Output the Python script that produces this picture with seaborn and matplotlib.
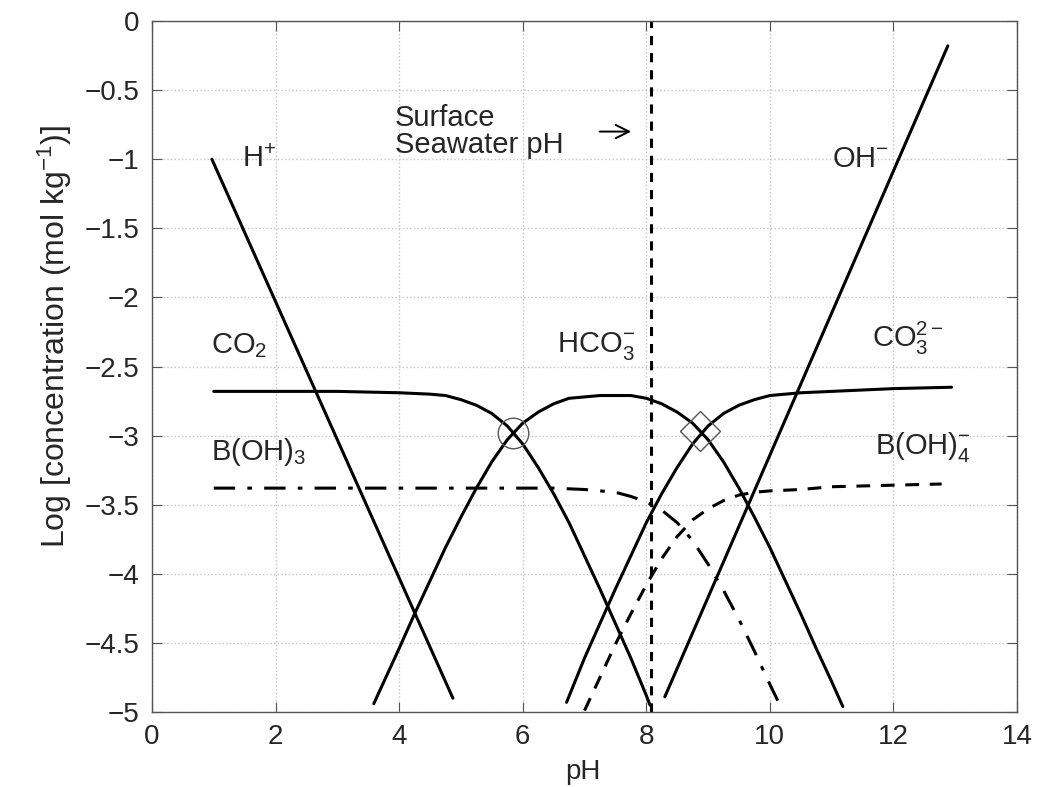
import numpy as np
import matplotlib
matplotlib.use("Agg")
import matplotlib.pyplot as plt
import seaborn as sns

# values (pH, log concentration)
h_ph = [0.97, 4.87]
h_log = [-1.0, -4.9]

oh_ph = [8.3, 12.88]
oh_log = [-4.89, -0.18]

co2_ph = [1.0, 2.0, 3.0, 4.0, 4.5, 4.75, 5.0, 5.25, 5.5, 5.75, 6.0, 6.25, 6.5, 6.75,
          7.0, 7.25, 7.5, 7.75, 8.0, 8.06]
co2_log = [-2.68, -2.68, -2.68, -2.69, -2.70, -2.71, -2.74, -2.78, -2.84, -2.93, -3.06,
           -3.23, -3.42, -3.63, -3.87, -4.11, -4.36, -4.61, -4.88, -4.95]

hco3_ph = [3.59, 4.0, 4.25, 4.5, 4.75, 5.0, 5.25, 5.5, 5.75, 6.0, 6.25, 6.5, 6.75, 7.0,
           7.25, 7.5, 7.75, 8.0, 8.25, 8.5, 8.75, 9.0, 9.25, 9.5, 9.75, 10.0, 10.25,
           10.5, 10.75, 11.0, 11.18]
hco3_log = [-4.94, -4.54, -4.29, -4.05, -3.81, -3.59, -3.38, -3.19, -3.03, -2.91, -2.83,
            -2.77, -2.73, -2.72, -2.71, -2.71, -2.71, -2.73, -2.77, -2.83, -2.91, -3.03,
            -3.19, -3.38, -3.59, -3.81, -4.05, -4.29, -4.54, -4.78, -4.96]

co3_ph = [6.71, 7.0, 7.25, 7.5, 7.75, 8.0, 8.25, 8.5, 8.75, 9.0, 9.25, 9.5, 9.75, 10.0,
          10.25, 10.5, 11.0, 12.0, 12.94]
co3_log = [-4.93, -4.61, -4.36, -4.11, -3.87, -3.63, -3.42, -3.23, -3.06, -2.93, -2.84,
           -2.78, -2.74, -2.71, -2.70, -2.69, -2.68, -2.66, -2.65]

boh3_ph = [1.0, 6.0, 6.5, 7.0, 7.25, 7.5, 7.75, 8.0, 8.25, 8.5, 8.75, 9.0, 9.25, 9.5,
           9.75, 10.0, 10.13]
boh3_log = [-3.38, -3.38, -3.38, -3.39, -3.40, -3.41, -3.44, -3.48, -3.54, -3.63, -3.76,
            -3.93, -4.12, -4.33, -4.56, -4.80, -4.92]

boh4_ph = [7.0, 7.25, 7.5, 7.75, 8.0, 8.25, 8.5, 8.75, 9.0, 9.25, 9.5, 9.75, 10.0, 10.5,
           11.0, 12.78]
boh4_log = [-4.99, -4.75, -4.51, -4.29, -4.08, -3.89, -3.73, -3.61, -3.53, -3.47, -3.43,
            -3.41, -3.40, -3.39, -3.37, -3.35]

seawater_ph = 8.07
circle_pt = (5.85, -2.98)
diamond_pt = (8.87, -2.97)

sns.set_style("ticks")
plt.rcParams['font.family'] = ['Liberation Sans', 'DejaVu Sans']
plt.rcParams['mathtext.fontset'] = 'custom'
plt.rcParams['mathtext.rm'] = 'Liberation Sans'
plt.rcParams['mathtext.it'] = 'Liberation Sans:italic'

fig = plt.figure(figsize=(10.38, 7.87), dpi=100)
ax = fig.add_axes([0.1464, 0.0953, 0.8334, 0.878])

lw = 2.2
sns.lineplot(x=h_ph, y=h_log, ax=ax, color='k', lw=lw)
sns.lineplot(x=oh_ph, y=oh_log, ax=ax, color='k', lw=lw)
sns.lineplot(x=co2_ph, y=co2_log, ax=ax, color='k', lw=lw, sort=False)
sns.lineplot(x=hco3_ph, y=hco3_log, ax=ax, color='k', lw=lw, sort=False)
sns.lineplot(x=co3_ph, y=co3_log, ax=ax, color='k', lw=lw, sort=False)
sns.lineplot(x=boh3_ph, y=boh3_log, ax=ax, color='k', lw=lw, sort=False,
             linestyle=(0, (7, 4, 1.5, 4)))
sns.lineplot(x=boh4_ph, y=boh4_log, ax=ax, color='k', lw=lw, sort=False,
             linestyle=(0, (4.5, 3.5)))
ax.plot([seawater_ph, seawater_ph], [-5, 0], color='k', lw=lw, linestyle=(0, (3, 2.6)))

ax.plot(*circle_pt, marker='o', ms=22, mfc='none', mec='#555555', mew=1.0)
ax.plot(*diamond_pt, marker='D', ms=20, mfc='none', mec='#555555', mew=1.0)

fs = 21
ax.text(1.46, -1.0, r'H$^{+}$', fontsize=fs, va='center')
ax.text(11.0, -1.0, r'OH$^{-}$', fontsize=fs, va='center')
ax.text(0.95, -2.35, r'CO$_2$', fontsize=fs, va='center')
ax.text(6.55, -2.35, r'HCO$_3^{-}$', fontsize=fs, va='center')
ax.text(11.65, -2.3, r'CO$_3^{2-}$', fontsize=fs, va='center')
ax.text(0.95, -3.12, r'B(OH)$_3$', fontsize=fs, va='center')
ax.text(11.7, -3.08, r'B(OH)$_4^{-}$', fontsize=fs, va='center')
ax.text(3.93, -0.8, 'Surface\nSeawater pH', fontsize=fs, va='center', linespacing=0.92)
ax.annotate('', xy=(7.8, -0.8), xytext=(7.2, -0.8),
            arrowprops=dict(arrowstyle='->', lw=1.4, color='k', mutation_scale=24))

ax.set_xlim(0, 14)
ax.set_ylim(-5, 0)
ax.set_xticks(np.arange(0, 15, 2))
ax.set_yticks(np.arange(-5, 0.01, 0.5))
ax.set_yticklabels(['\u22125', '\u22124.5', '\u22124', '\u22123.5', '\u22123', '\u22122.5',
                    '\u22122', '\u22121.5', '\u22121', '\u22120.5', '0'])
ax.grid(True, linestyle=':', color='#c4c4c4', lw=1.0)
ax.tick_params(direction='in', top=True, right=True, labelsize=20, length=7,
               color='#555555', pad=9)
for s in ax.spines.values():
    s.set_visible(True)
    s.set_color('#555555')
    s.set_linewidth(1.0)
ax.set_xlabel('pH', fontsize=20, va='center')
ax.xaxis.set_label_coords(0.498, -0.087)
ax.set_ylabel(r'Log [concentration (mol kg$^{-1}$)]', fontsize=23, va='center')
ax.yaxis.set_label_coords(-0.112, 0.544)

fig.savefig('out.png', dpi=100)
